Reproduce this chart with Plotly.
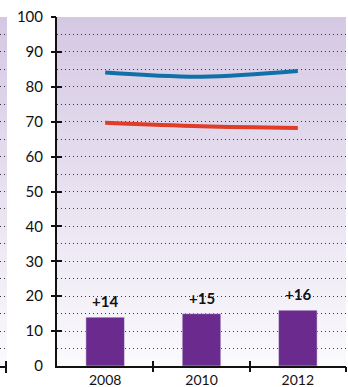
import plotly.graph_objects as go

# Data
years = ["2008", "2010", "2012"]
share_blue = [84.1, 82.9, 84.5]
share_red = [69.7, 68.7, 68.2]
gap = [14, 15, 16]
gap_labels = ["+14", "+15", "+16"]
y_tickvals = list(range(0, 101, 10))
y_crossticks = list(range(10, 101, 10))
x_boundaries = [0.5, 1.5, 2.5]

# Styling
BLUE = "#1170a8"
RED = "#e03c27"
PURPLE = "#6b2a8d"
TOP_BG = (213, 200, 227)
BOTTOM_BG = (251, 250, 253)
FONT = "Lato"
W, H = 348, 387
ML, MR, MT, MB = 0, 2, 17, 21
PLOT_W = W - ML - MR
AXIS_X = 57
STRIP_W = 7

main_dom = [AXIS_X / PLOT_W, 1]
strip_dom = [0, STRIP_W / PLOT_W]

fig = go.Figure()

# Gap bars with labels
fig.add_trace(go.Bar(x=years, y=gap, marker_color=PURPLE, width=0.4,
                     hoverinfo="skip", showlegend=False))
for i, (v, lab) in enumerate(zip(gap, gap_labels)):
    # category positions are given by index (year strings would be read as numbers)
    fig.add_annotation(x=i, y=v, xref="x", yref="y", text="<b>" + lab + "</b>",
                       showarrow=False, yanchor="bottom", yshift=5,
                       font=dict(family=FONT, size=15, color="#111"))

# Smooth lines
fig.add_trace(go.Scatter(x=years, y=share_blue, mode="lines",
                         line=dict(color=BLUE, width=4, shape="spline", smoothing=1),
                         hoverinfo="skip", showlegend=False))
fig.add_trace(go.Scatter(x=years, y=share_red, mode="lines",
                         line=dict(color=RED, width=4, shape="spline", smoothing=1),
                         hoverinfo="skip", showlegend=False))

# Empty traces so the overlay / strip subplots exist
for xa, ya in [("x2", "y"), ("x3", "y"), ("x", "y2"), ("x", "y3"),
               ("x4", "y"), ("x5", "y")]:
    fig.add_trace(go.Scatter(x=[], y=[], xaxis=xa, yaxis=ya,
                             hoverinfo="skip", showlegend=False))

# Vertical gradient backgrounds (main panel and narrow left strip)
N = 70
for i in range(N):
    t = (i + 0.5) / N
    c = tuple(round(b + (a - b) * t) for a, b in zip(TOP_BG, BOTTOM_BG))
    col = "rgb(%d,%d,%d)" % c
    y0, y1 = 100 * i / N, 100 * (i + 1) / N + 0.2
    for xr in ("x domain", "x4 domain"):
        fig.add_shape(type="rect", xref=xr, yref="y", x0=0, x1=1, y0=y0, y1=y1,
                      fillcolor=col, line_width=0, layer="below")

grid = dict(showgrid=True, gridcolor="#3a3a3a", gridwidth=1, griddash="1px,3px")
hidden = dict(showticklabels=False, showgrid=False, zeroline=False,
              showline=False, automargin=False)
tick_style = dict(tickwidth=2, tickcolor="#111", ticklen=5, tickmode="array")

fig.update_layout(
    width=W, height=H,
    margin=dict(l=ML, r=MR, t=MT, b=MB, pad=0),
    paper_bgcolor="white", plot_bgcolor="rgba(0,0,0,0)",
    xaxis=dict(domain=main_dom, type="category", categoryorder="array",
               categoryarray=years, range=[-0.5, 2.5], anchor="y",
               showline=True, linecolor="#111", linewidth=2, ticks="",
               showgrid=False, zeroline=False, ticklabelstandoff=0,
               automargin=False,
               tickfont=dict(family=FONT, size=14, color="#111")),
    xaxis2=dict(domain=main_dom, overlaying="x", anchor="y", range=[-0.5, 2.5],
                tickvals=x_boundaries, ticks="outside", **tick_style, **hidden),
    xaxis3=dict(domain=main_dom, overlaying="x", anchor="y", range=[-0.5, 2.5],
                tickvals=x_boundaries, ticks="inside", **tick_style, **hidden),
    xaxis4=dict(domain=strip_dom, anchor="y", range=[0, 1], tickvals=[0.8],
                ticks="outside", **tick_style, showticklabels=False,
                showgrid=False, zeroline=False, automargin=False,
                showline=True, linecolor="#111", linewidth=2),
    xaxis5=dict(domain=strip_dom, overlaying="x4", anchor="y", range=[0, 1],
                tickvals=[0.8], ticks="inside", **tick_style, **hidden),
    yaxis=dict(range=[0, 100], anchor="x", tickmode="array", tickvals=y_tickvals,
               ticks="", showline=True, linecolor="#111", linewidth=2,
               zeroline=False, ticklabelstandoff=9, automargin=False,
               tickfont=dict(family=FONT, size=15, color="#111"),
               minor=dict(dtick=5, tick0=0, ticks="", **grid), **grid),
    yaxis2=dict(range=[0, 100], overlaying="y", anchor="x",
                tickvals=y_crossticks, ticks="outside", **tick_style, **hidden),
    yaxis3=dict(range=[0, 100], overlaying="y", anchor="x",
                tickvals=y_crossticks, ticks="inside", **tick_style, **hidden),
)

fig.write_html("out.html")
